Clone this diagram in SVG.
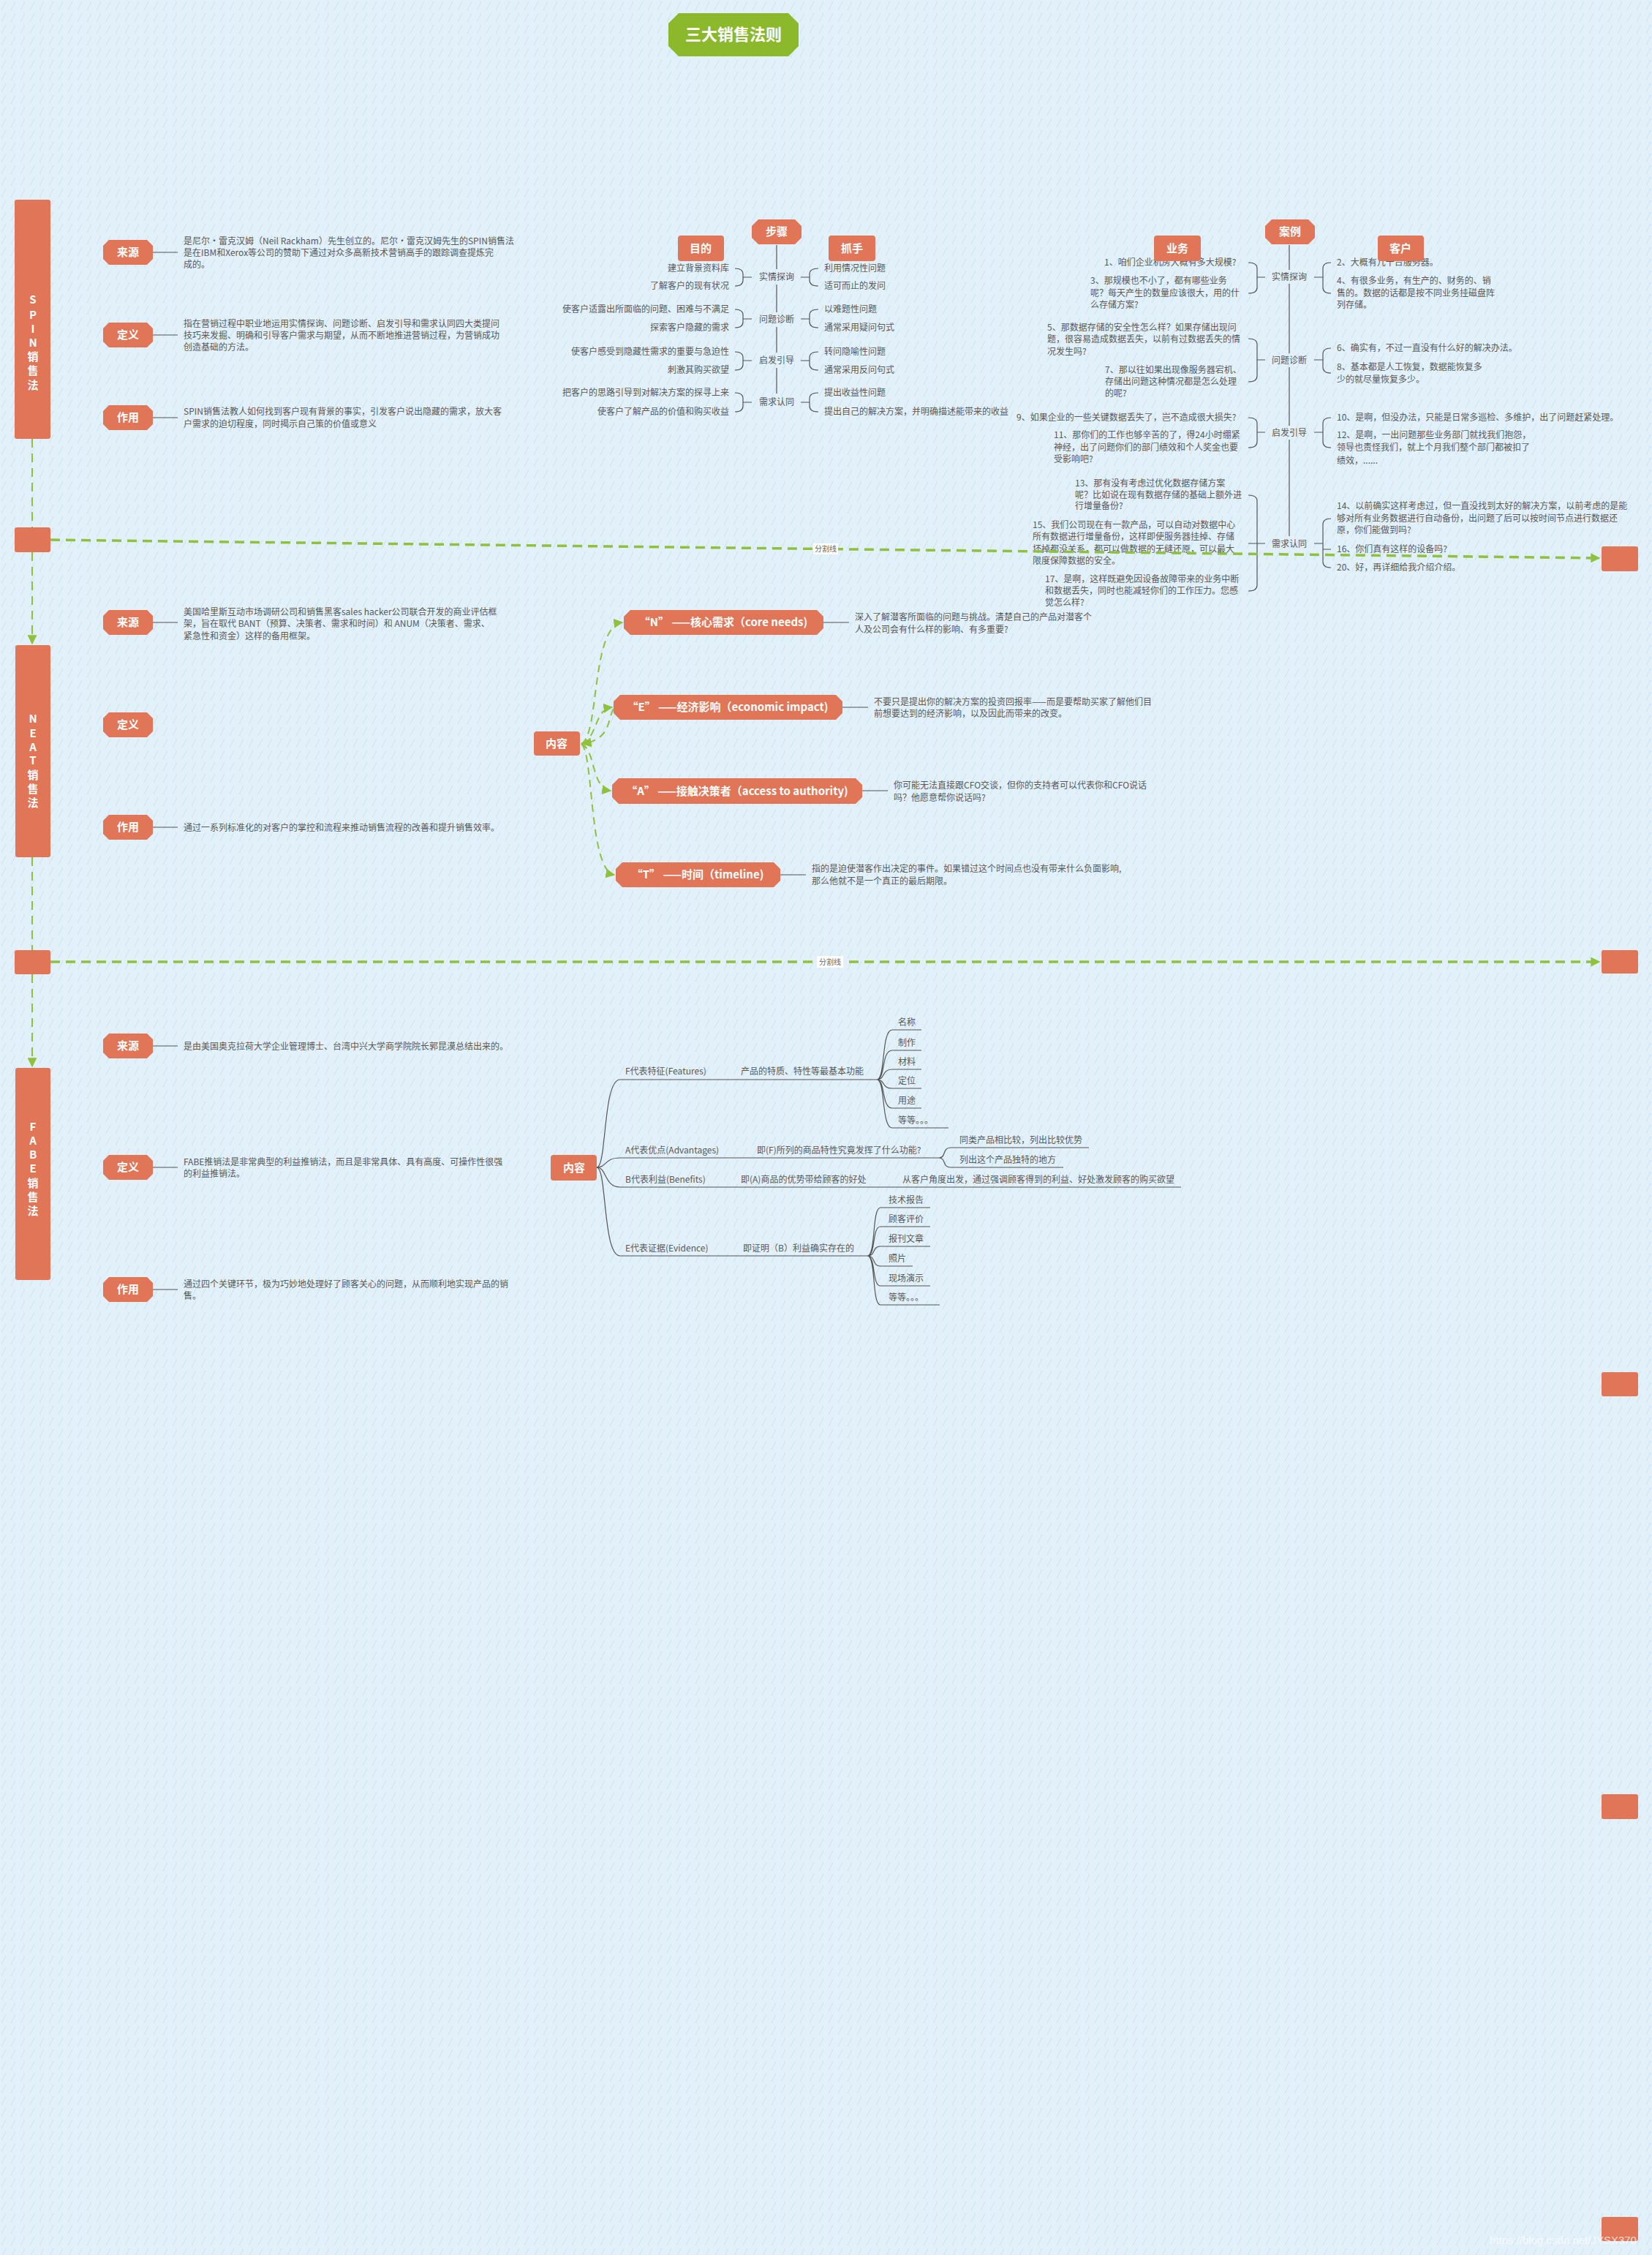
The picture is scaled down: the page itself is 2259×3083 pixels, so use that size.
<svg xmlns="http://www.w3.org/2000/svg" xmlns:xlink="http://www.w3.org/1999/xlink" width="2259" height="3083" viewBox="0 0 2259 3083">
<style>
.t{font-family:"Noto Sans CJK SC","Noto Sans",sans-serif;font-size:12px;fill:#595959}
.e{text-anchor:end}
.m{text-anchor:middle}
.w{font-family:"Noto Sans CJK SC","Noto Sans",sans-serif;font-weight:bold;fill:#fff;text-anchor:middle;font-size:15px}
.o{fill:#e07557}
.ln{fill:none;stroke:#555;stroke-width:1.2}
.dash{fill:none;stroke:#8fc13f;stroke-width:3.5;stroke-dasharray:13 8}
.vd{fill:none;stroke:#8fc13f;stroke-width:2;stroke-dasharray:12 8}
.cv{fill:none;stroke:#8fc13f;stroke-width:2;stroke-dasharray:10 7}
.sep{font-family:"Noto Sans CJK SC",sans-serif;font-size:10px;fill:#666;text-anchor:middle}
</style>
<defs>
<pattern id="hatch" width="13" height="16" patternUnits="userSpaceOnUse"><path d="M2,14 L8,2" stroke="#cde3f1" stroke-width="1.1"/></pattern>
<marker id="ag" viewBox="0 0 10 10" refX="9" refY="5" markerUnits="userSpaceOnUse" markerWidth="13" markerHeight="13" orient="auto"><path d="M0,0 L10,5 L0,10 z" fill="#8fc13f"/></marker>
<polygon id="tag" class="o" points="-26,-17 26,-17 34,-9 34,9 26,17 -26,17 -34,9 -34,-9"/>
<polygon id="oct" class="o" points="-25,-17 25,-17 34,-8 34,8 25,17 -25,17 -34,8 -34,-8"/>
</defs>
<rect width="2259" height="3083" fill="#e2f0f9"/>
<rect width="2259" height="3083" fill="url(#hatch)"/>

<g id="title"><polygon points="928,18 1078,18 1092,32 1092,63 1078,77 928,77 914,63 914,32" fill="#8cb82b"/><text x="1003" y="55" class="w" style="font-size:22px">三大销售法则</text></g>

<!-- SPIN -->
<g id="spin"><rect x="20" y="273" width="49" height="327" rx="3" class="o"/>
<text class="w" x="45"><tspan x="45" y="415">S</tspan><tspan x="45" y="436">P</tspan><tspan x="45" y="455">I</tspan><tspan x="45" y="474">N</tspan><tspan x="45" y="493">销</tspan><tspan x="45" y="512">售</tspan><tspan x="45" y="532">法</tspan></text></g>
<g id="spin-source"><use href="#tag" x="175" y="345"/><text class="w" x="175" y="350">来源</text><path class="ln" d="M209,345 H243"/>
<text class="t" x="251" y="334">是尼尔·雷克汉姆（Neil Rackham）先生创立的。尼尔·雷克汉姆先生的SPIN销售法</text>
<text class="t" x="251" y="350">是在IBM和Xerox等公司的赞助下通过对众多高新技术营销高手的跟踪调查提炼完</text>
<text class="t" x="251" y="366">成的。</text></g>
<g id="spin-def"><use href="#tag" x="175" y="458"/><text class="w" x="175" y="463">定义</text><path class="ln" d="M209,458 H243"/>
<text class="t" x="251" y="447">指在营销过程中职业地运用实情探询、问题诊断、启发引导和需求认同四大类提问</text>
<text class="t" x="251" y="463">技巧来发掘、明确和引导客户需求与期望，从而不断地推进营销过程，为营销成功</text>
<text class="t" x="251" y="479">创造基础的方法。</text></g>
<g id="spin-use"><use href="#tag" x="175" y="571"/><text class="w" x="175" y="576">作用</text><path class="ln" d="M209,571 H243"/>
<text class="t" x="251" y="567">SPIN销售法教人如何找到客户现有背景的事实，引发客户说出隐藏的需求，放大客</text>
<text class="t" x="251" y="584">户需求的迫切程度，同时揭示自己策的价值或意义</text></g>

<g id="spin-steps">
<path class="ln" d="M1062,335 V368 M1062,389 V427 M1062,447 V482 M1062,503 V538"/>
<path class="ln" d="M1005,367 Q1016,367 1016,375 V383 Q1016,391 1005,391 M1016,379 H1028 M1119,367 Q1107,367 1107,375 V383 Q1107,391 1119,391 M1107,379 H1095"/>
<path class="ln" d="M1005,423 Q1016,423 1016,431 V440 Q1016,448 1005,448 M1016,436 H1028 M1119,423 Q1107,423 1107,431 V440 Q1107,448 1119,448 M1107,436 H1095"/>
<path class="ln" d="M1005,481 Q1016,481 1016,489 V498 Q1016,506 1005,506 M1016,493 H1028 M1119,481 Q1107,481 1107,489 V498 Q1107,506 1119,506 M1107,493 H1095"/>
<path class="ln" d="M1005,537 Q1016,537 1016,545 V555 Q1016,563 1005,563 M1016,550 H1028 M1119,537 Q1107,537 1107,545 V555 Q1107,563 1119,563 M1107,550 H1095"/>
<use href="#oct" x="1062" y="317"/><text class="w" x="1062" y="322">步骤</text>
<rect x="927" y="322" width="63" height="35" rx="4" class="o"/><text class="w" x="958" y="345">目的</text>
<rect x="1133" y="322" width="64" height="35" rx="4" class="o"/><text class="w" x="1165" y="345">抓手</text>
<text class="t m" x="1062" y="383">实情探询</text><text class="t m" x="1062" y="441">问题诊断</text><text class="t m" x="1062" y="497">启发引导</text><text class="t m" x="1062" y="554">需求认同</text>
<text class="t e" x="997" y="371">建立背景资料库</text>
<text class="t e" x="997" y="395">了解客户的现有状况</text>
<text class="t e" x="997" y="427">使客户适露出所面临的问题、困难与不满足</text>
<text class="t e" x="997" y="452">探索客户隐藏的需求</text>
<text class="t e" x="997" y="485">使客户感受到隐藏性需求的重要与急迫性</text>
<text class="t e" x="997" y="510">刺激其购买欲望</text>
<text class="t e" x="997" y="541">把客户的思路引导到对解决方案的探寻上来</text>
<text class="t e" x="997" y="567">使客户了解产品的价值和购买收益</text>
<text class="t" x="1127" y="371">利用情况性问题</text>
<text class="t" x="1127" y="395">适可而止的发问</text>
<text class="t" x="1127" y="427">以难题性问题</text>
<text class="t" x="1127" y="452">通常采用疑问句式</text>
<text class="t" x="1127" y="485">转问隐喻性问题</text>
<text class="t" x="1127" y="510">通常采用反问句式</text>
<text class="t" x="1127" y="541">提出收益性问题</text>
<text class="t" x="1127" y="567">提出自己的解决方案，并明确描述能带来的收益</text>
</g>

<g id="spin-case">
<path class="ln" d="M1763,335 V369 M1763,388 V483 M1763,502 V582 M1763,601 V733"/>
<path class="ln" d="M1707,359 Q1719,359 1719,367 V393 Q1719,401 1707,401 M1719,379 H1730 M1820,359 Q1809,359 1809,367 V393 Q1809,401 1820,401 M1809,379 H1797"/>
<path class="ln" d="M1707,463 Q1719,463 1719,471 V514 Q1719,522 1707,522 M1719,492 H1730 M1820,476 Q1809,476 1809,484 V502 Q1809,510 1820,510 M1809,492 H1797"/>
<path class="ln" d="M1707,571 Q1719,571 1719,579 V604 Q1719,612 1707,612 M1719,591 H1730 M1820,571 Q1809,571 1809,579 V604 Q1809,612 1820,612 M1809,591 H1797"/>
<path class="ln" d="M1707,677 Q1719,677 1719,685 V800 Q1719,808 1707,808 M1707,743 H1730 M1820,709 Q1809,709 1809,717 V768 Q1809,776 1820,776 M1809,743 H1797 M1809,751 H1820"/>
<text class="t m" x="1763" y="383">实情探询</text><text class="t m" x="1763" y="497">问题诊断</text><text class="t m" x="1763" y="596">启发引导</text><text class="t m" x="1763" y="748">需求认同</text>
<text class="t" x="1510" y="363">1、咱们企业机房大概有多大规模?</text>
<text class="t" x="1491" y="388">3、那规模也不小了，都有哪些业务</text>
<text class="t" x="1491" y="405">呢？每天产生的数量应该很大，用的什</text>
<text class="t" x="1491" y="421">么存储方案?</text>
<text class="t" x="1432" y="452">5、那数据存储的安全性怎么样？如果存储出现问</text>
<text class="t" x="1432" y="468">题，很容易造成数据丢失，以前有过数据丢失的情</text>
<text class="t" x="1432" y="485">况发生吗?</text>
<text class="t" x="1511" y="510">7、那以往如果出现像服务器宕机、</text>
<text class="t" x="1511" y="526">存储出问题这种情况都是怎么处理</text>
<text class="t" x="1511" y="542">的呢?</text>
<text class="t" x="1390" y="575">9、如果企业的一些关键数据丢失了，岂不造成很大损失?</text>
<text class="t" x="1441" y="599">11、那你们的工作也够辛苦的了，得24小时绷紧</text>
<text class="t" x="1441" y="616">神经，出了问题你们的部门绩效和个人奖金也要</text>
<text class="t" x="1441" y="632">受影响吧?</text>
<text class="t" x="1470" y="665">13、那有没有考虑过优化数据存储方案</text>
<text class="t" x="1470" y="681">呢？比如说在现有数据存储的基础上额外进</text>
<text class="t" x="1470" y="696">行增量备份?</text>
<text class="t" x="1412" y="722">15、我们公司现在有一款产品，可以自动对数据中心</text>
<text class="t" x="1412" y="738">所有数据进行增量备份，这样即使服务器挂掉、存储</text>
<text class="t" x="1412" y="755">坏掉都没关系，都可以做数据的无缝还原，可以最大</text>
<text class="t" x="1412" y="771">限度保障数据的安全。</text>
<text class="t" x="1429" y="796">17、是啊，这样既避免因设备故障带来的业务中断</text>
<text class="t" x="1429" y="812">和数据丢失，同时也能减轻你们的工作压力。您感</text>
<text class="t" x="1429" y="828">觉怎么样?</text>
<text class="t" x="1828" y="363">2、大概有几十台服务器。</text>
<text class="t" x="1828" y="388">4、有很多业务，有生产的、财务的、销</text>
<text class="t" x="1828" y="405">售的。数据的话都是按不同业务挂磁盘阵</text>
<text class="t" x="1828" y="421">列存储。</text>
<text class="t" x="1828" y="480">6、确实有，不过一直没有什么好的解决办法。</text>
<text class="t" x="1828" y="506">8、基本都是人工恢复，数据能恢复多</text>
<text class="t" x="1828" y="523">少的就尽量恢复多少。</text>
<text class="t" x="1828" y="575">10、是啊，但没办法，只能是日常多巡检、多维护，出了问题赶紧处理。</text>
<text class="t" x="1828" y="599">12、是啊，一出问题那些业务部门就找我们抱怨，</text>
<text class="t" x="1828" y="616">领导也责怪我们，就上个月我们整个部门都被扣了</text>
<text class="t" x="1828" y="634">绩效，......</text>
<text class="t" x="1828" y="696">14、以前确实这样考虑过，但一直没找到太好的解决方案，以前考虑的是能</text>
<text class="t" x="1828" y="713">够对所有业务数据进行自动备份，出问题了后可以按时间节点进行数据还</text>
<text class="t" x="1828" y="729">原，你们能做到吗?</text>
<text class="t" x="1828" y="755">16、你们真有这样的设备吗?</text>
<text class="t" x="1828" y="780">20、好，再详细给我介绍介绍。</text>
<use href="#oct" x="1764" y="317"/><text class="w" x="1764" y="322">案例</text>
<rect x="1578" y="322" width="64" height="35" rx="4" class="o"/><text class="w" x="1610" y="345">业务</text>
<rect x="1884" y="322" width="63" height="35" rx="4" class="o"/><text class="w" x="1915" y="345">客户</text>
</g>

<!-- small boxes -->
<g id="sep-box-1"><rect x="20" y="721" width="49" height="34" rx="3" class="o"/></g>
<g id="sep-box-1r"><rect x="2190" y="747" width="50" height="34" rx="3" class="o"/></g>
<g id="sep-box-2"><rect x="20" y="1299" width="49" height="33" rx="3" class="o"/></g>
<g id="sep-box-2r"><rect x="2190" y="1299" width="50" height="32" rx="3" class="o"/></g>
<g id="box-r3"><rect x="2190" y="1876" width="50" height="33" rx="3" class="o"/></g>
<g id="box-r4"><rect x="2190" y="2453" width="50" height="34" rx="3" class="o"/></g>
<g id="box-r5"><rect x="2190" y="3031" width="50" height="33" rx="3" class="o"/></g>

<!-- NEAT -->
<g id="neat"><rect x="21" y="882" width="48" height="290" rx="3" class="o"/>
<text class="w"><tspan x="45" y="988">N</tspan><tspan x="45" y="1008">E</tspan><tspan x="45" y="1027">A</tspan><tspan x="45" y="1045">T</tspan><tspan x="45" y="1065">销</tspan><tspan x="45" y="1084">售</tspan><tspan x="45" y="1103">法</tspan></text></g>
<g id="neat-source"><use href="#tag" x="175" y="851"/><text class="w" x="175" y="856">来源</text><path class="ln" d="M209,851 H243"/>
<text class="t" x="251" y="841">美国哈里斯互动市场调研公司和销售黑客sales hacker公司联合开发的商业评估框</text>
<text class="t" x="251" y="857">架，旨在取代 BANT（预算、决策者、需求和时间）和 ANUM（决策者、需求、</text>
<text class="t" x="251" y="874">紧急性和资金）这样的备用框架。</text></g>
<g id="neat-def"><use href="#tag" x="175" y="991"/><text class="w" x="175" y="996">定义</text></g>
<g id="neat-use"><use href="#tag" x="175" y="1131"/><text class="w" x="175" y="1136">作用</text><path class="ln" d="M209,1131 H243"/>
<text class="t" x="251" y="1136">通过一系列标准化的对客户的掌控和流程来推动销售流程的改善和提升销售效率。</text></g>
<g id="neat-content"><rect x="730" y="1000" width="63" height="33" rx="4" class="o"/><text class="w" x="761" y="1022">内容</text></g>
<g id="neat-n"><polygon class="o" points="862,834 1117,834 1126,843 1126,859 1117,868 862,868 853,859 853,843"/><text class="w" x="989" y="856">“N” ——核心需求（core needs)</text>
<path class="ln" d="M1126,851 H1161"/><text class="t" x="1169" y="848">深入了解潜客所面临的问题与挑战。清楚自己的产品对潜客个</text><text class="t" x="1169" y="865">人及公司会有什么样的影响、有多重要?</text></g>
<g id="neat-e"><polygon class="o" points="848,950 1143,950 1152,959 1152,975 1143,984 848,984 839,975 839,959"/><text class="w" x="995" y="972">“E” ——经济影响（economic impact)</text>
<path class="ln" d="M1152,967 H1187"/><text class="t" x="1195" y="964">不要只是提出你的解决方案的投资回报率——而是要帮助买家了解他们目</text><text class="t" x="1195" y="980">前想要达到的经济影响，以及因此而带来的改变。</text></g>
<g id="neat-a"><polygon class="o" points="846,1064 1170,1064 1179,1073 1179,1090 1170,1099 846,1099 837,1090 837,1073"/><text class="w" x="1008" y="1087">“A” ——接触决策者（access to authority)</text>
<path class="ln" d="M1179,1081 H1214"/><text class="t" x="1222" y="1078">你可能无法直接跟CFO交谈，但你的支持者可以代表你和CFO说话</text><text class="t" x="1222" y="1095">吗？他愿意帮你说话吗?</text></g>
<g id="neat-t"><polygon class="o" points="851,1179 1058,1179 1067,1188 1067,1204 1058,1213 851,1213 842,1204 842,1188"/><text class="w" x="954" y="1201">“T” ——时间（timeline)</text>
<path class="ln" d="M1067,1196 H1102"/><text class="t" x="1110" y="1192">指的是迫使潜客作出决定的事件。如果错过这个时间点也没有带来什么负面影响,</text><text class="t" x="1110" y="1209">那么他就不是一个真正的最后期限。</text></g>

<!-- FABE -->
<g id="fabe"><rect x="21" y="1460" width="48" height="290" rx="3" class="o"/>
<text class="w"><tspan x="45" y="1546">F</tspan><tspan x="45" y="1565">A</tspan><tspan x="45" y="1584">B</tspan><tspan x="45" y="1603">E</tspan><tspan x="45" y="1623">销</tspan><tspan x="45" y="1642">售</tspan><tspan x="45" y="1661">法</tspan></text></g>
<g id="fabe-source"><use href="#tag" x="175" y="1430"/><text class="w" x="175" y="1435">来源</text><path class="ln" d="M209,1430 H243"/>
<text class="t" x="251" y="1435">是由美国奥克拉荷大学企业管理博士、台湾中兴大学商学院院长郭昆漠总结出来的。</text></g>
<g id="fabe-def"><use href="#tag" x="175" y="1596"/><text class="w" x="175" y="1601">定义</text><path class="ln" d="M209,1596 H243"/>
<text class="t" x="251" y="1593">FABE推销法是非常典型的利益推销法，而且是非常具体、具有高度、可操作性很强</text>
<text class="t" x="251" y="1609">的利益推销法。</text></g>
<g id="fabe-use"><use href="#tag" x="175" y="1763"/><text class="w" x="175" y="1768">作用</text><path class="ln" d="M209,1763 H243"/>
<text class="t" x="251" y="1760">通过四个关键环节，极为巧妙地处理好了顾客关心的问题，从而顺利地实现产品的销</text>
<text class="t" x="251" y="1776">售。</text></g>
<g id="fabe-content"><rect x="753" y="1579" width="63" height="35" rx="4" class="o"/><text class="w" x="785" y="1602">内容</text></g>
<g id="fabe-tree">
<path class="ln" d="M816,1596 C830,1596 824,1476 848,1476 H1199"/>
<path class="ln" d="M816,1596 C830,1596 826,1583 848,1583 H1284"/>
<path class="ln" d="M816,1596 C830,1596 826,1623 848,1623 H1615"/>
<path class="ln" d="M816,1596 C830,1596 824,1717 848,1717 H1186"/>
<text class="t" x="855" y="1469">F代表特征(Features)</text><text class="t" x="1013" y="1469">产品的特质、特性等最基本功能</text>
<text class="t" x="855" y="1577">A代表优点(Advantages)</text><text class="t" x="1035" y="1577">即(F)所列的商品特性究竟发挥了什么功能?</text>
<text class="t" x="855" y="1617">B代表利益(Benefits)</text><text class="t" x="1013" y="1617">即(A)商品的优势带给顾客的好处</text><text class="t" x="1234" y="1617">从客户角度出发，通过强调顾客得到的利益、好处激发顾客的购买欲望</text>
<text class="t" x="855" y="1711">E代表证据(Evidence)</text><text class="t" x="1016" y="1711">即证明（B）利益确实存在的</text>
<path class="ln" d="M1199,1476 C1211,1476 1205,1408 1220,1408 H1260 M1199,1476 C1211,1476 1205,1436 1220,1436 H1260 M1199,1476 C1211,1476 1205,1462 1220,1462 H1260 M1199,1476 C1211,1476 1205,1488 1220,1488 H1260 M1199,1476 C1211,1476 1205,1515 1220,1515 H1260 M1199,1476 C1211,1476 1205,1542 1220,1542 H1297"/>
<text class="t" x="1228" y="1402">名称</text><text class="t" x="1228" y="1430">制作</text><text class="t" x="1228" y="1456">材料</text><text class="t" x="1228" y="1482">定位</text><text class="t" x="1228" y="1509">用途</text><text class="t" x="1228" y="1536">等等。。。</text>
<path class="ln" d="M1284,1583 C1294,1583 1288,1569 1300,1569 H1489 M1284,1583 C1294,1583 1288,1596 1300,1596 H1454"/>
<text class="t" x="1312" y="1563">同类产品相比较，列出比较优势</text><text class="t" x="1312" y="1590">列出这个产品独特的地方</text>
<path class="ln" d="M1186,1717 C1198,1717 1192,1651 1204,1651 H1272 M1186,1717 C1198,1717 1192,1677 1204,1677 H1272 M1186,1717 C1198,1717 1192,1704 1204,1704 H1272 M1186,1717 C1198,1717 1192,1731 1204,1731 H1248 M1186,1717 C1198,1717 1192,1758 1204,1758 H1272 M1186,1717 C1198,1717 1192,1784 1204,1784 H1285"/>
<text class="t" x="1215" y="1645">技术报告</text><text class="t" x="1215" y="1671">顾客评价</text><text class="t" x="1215" y="1698">报刊文章</text><text class="t" x="1215" y="1725">照片</text><text class="t" x="1215" y="1752">现场演示</text><text class="t" x="1215" y="1778">等等。。。</text>
</g>

<!-- connectors -->
<g id="connectors">
<path class="vd" d="M44,600 V721"/>
<path class="vd" d="M44,755 V880" marker-end="url(#ag)"/>
<path class="vd" d="M44,1172 V1299"/>
<path class="vd" d="M44,1332 V1458" marker-end="url(#ag)"/>
<path class="dash" d="M69,738 L2187,763" marker-end="url(#ag)"/>
<rect x="1112" y="743" width="34" height="15" fill="#fff"/><text class="sep" x="1129" y="754">分割线</text>
<path class="dash" d="M69,1315 L2187,1315" marker-end="url(#ag)"/>
<rect x="1117" y="1307" width="36" height="16" fill="#fff"/><text class="sep" x="1135" y="1319">分割线</text>
<path class="cv" d="M795,1017 C820,1005 808,856 851,851" marker-end="url(#ag)"/>
<path class="cv" d="M795,1017 C818,1008 812,970 837,967" marker-end="url(#ag)"/>
<path class="cv" d="M839,969 C830,985 836,1010 797,1017" marker-end="url(#ag)"/>
<path class="cv" d="M795,1017 C815,1025 808,1078 835,1081" marker-end="url(#ag)"/>
<path class="cv" d="M795,1017 C812,1030 805,1190 840,1196" marker-end="url(#ag)"/>
</g>
<text x="2037" y="3068" style="font-family:'Liberation Sans',sans-serif;font-size:15px;fill:#ffffff;fill-opacity:0.75">https://blog.csdn.net/JYSX370</text>
</svg>
